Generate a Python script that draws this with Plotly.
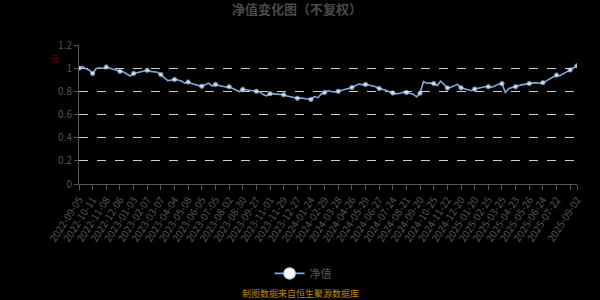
import plotly.graph_objects as go

# Net value series (equally spaced trading samples, 4 per tick interval)
nav = [
    1.000, 1.015, 0.995, 0.985, 0.953, 0.995, 1.003, 0.997, 1.010, 1.003,
    0.990, 0.982, 0.972, 0.968, 0.950, 0.932, 0.955, 0.962, 0.970, 0.978,
    0.982, 0.972, 0.970, 0.965, 0.945, 0.915, 0.893, 0.897, 0.903, 0.898,
    0.890, 0.870, 0.880, 0.868, 0.860, 0.852, 0.843, 0.858, 0.870, 0.845,
    0.860, 0.850, 0.843, 0.838, 0.840, 0.828, 0.812, 0.798, 0.818, 0.812,
    0.808, 0.800, 0.800, 0.795, 0.772, 0.760, 0.780, 0.778, 0.775, 0.772,
    0.770, 0.760, 0.752, 0.745, 0.740, 0.742, 0.737, 0.735, 0.730, 0.755,
    0.745, 0.775, 0.790, 0.805, 0.798, 0.795, 0.800, 0.810, 0.818, 0.825,
    0.833, 0.850, 0.862, 0.858, 0.860, 0.855, 0.848, 0.840, 0.825, 0.818,
    0.810, 0.795, 0.785, 0.778, 0.783, 0.790, 0.790, 0.785, 0.775, 0.752,
    0.785, 0.883, 0.870, 0.872, 0.867, 0.850, 0.888, 0.860, 0.828, 0.835,
    0.850, 0.860, 0.830, 0.822, 0.815, 0.805, 0.820, 0.828, 0.835, 0.840,
    0.840, 0.835, 0.848, 0.862, 0.867, 0.790, 0.825, 0.835, 0.840, 0.850,
    0.858, 0.862, 0.867, 0.872, 0.875, 0.870, 0.875, 0.890, 0.905, 0.920,
    0.940, 0.935, 0.950, 0.970, 0.985, 1.005, 1.020,
]

tick_labels = [
    "2022-09-05", "2022-10-11", "2022-11-08", "2022-12-06", "2023-01-03",
    "2023-02-07", "2023-03-07", "2023-04-04", "2023-05-08", "2023-06-05",
    "2023-07-05", "2023-08-02", "2023-08-30", "2023-09-27", "2023-11-01",
    "2023-11-29", "2023-12-27", "2024-01-24", "2024-02-29", "2024-03-28",
    "2024-04-26", "2024-05-29", "2024-06-27", "2024-07-24", "2024-08-21",
    "2024-09-20", "2024-10-25", "2024-11-22", "2024-12-20", "2025-01-20",
    "2025-02-25", "2025-03-25", "2025-04-23", "2025-05-26", "2025-06-24",
    "2025-07-22", "", "2025-09-02",
]

step = 4
n = len(nav)
xs = list(range(n))
tickvals = list(range(0, n, step)) + [n - 1]
marker_sizes = [4.5 if (i % step == 0 or i == n - 1) else 0 for i in xs]

fig = go.Figure()
fig.add_trace(go.Scatter(
    x=xs, y=nav, mode="lines+markers", showlegend=False,
    line=dict(color="#7fa9dc", width=1.6),
    marker=dict(size=marker_sizes, color="#ffffff",
                line=dict(color="#9cc0ea", width=0.8)),
))
fig.add_trace(go.Scatter(
    x=[None], y=[None], mode="lines+markers", name="净值",
    line=dict(color="#7fa9dc", width=1.6),
    marker=dict(size=11, color="#ffffff", line=dict(color="#cfe2ff", width=1.5)),
))

grey = "#555555"
fig.update_layout(
    width=600, height=300,
    paper_bgcolor="#000000", plot_bgcolor="#000000",
    margin=dict(l=79, r=23, t=45, b=114),
    font=dict(family="Noto Sans CJK SC, Noto Sans, sans-serif", color=grey, size=10),
    title=dict(text="<b>净值变化图（不复权）</b>", x=0.495, xanchor="center",
               y=0.967, yanchor="middle",
               font=dict(size=13, color="#4a4a4a")),
    showlegend=True,
    legend=dict(orientation="h", x=0.45, xanchor="center", y=-0.643, yanchor="middle",
                font=dict(size=11, color=grey), bgcolor="rgba(0,0,0,0)",
                itemwidth=30),
    xaxis=dict(
        range=[0, n - 1], tickmode="array", tickvals=tickvals, ticktext=tick_labels,
        tickangle=-57, showgrid=False, zeroline=False,
        showline=True, linecolor=grey, linewidth=1,
        ticks="outside", ticklen=5, tickcolor=grey,
        tickfont=dict(size=10, color=grey),
    ),
    yaxis=dict(
        range=[0, 1.2], tickmode="array", tickvals=[0, 0.2, 0.4, 0.6, 0.8, 1.0, 1.2],
        ticktext=["0", "0.2", "0.4", "0.6", "0.8", "1", "1.2"],
        showgrid=True, gridcolor="#cccccc", griddash="dash", gridwidth=1,
        zeroline=False, showline=True, linecolor=grey, linewidth=1,
        ticks="outside", ticklen=4, tickcolor=grey,
        tickfont=dict(size=10, color=grey),
    ),
    annotations=[
        dict(text="元", xref="paper", yref="paper", x=-0.048, y=0.9,
             xanchor="center", yanchor="middle",
             showarrow=False, font=dict(size=8, color="#8b0000")),
        dict(text="制图数据来自恒生聚源数据库", xref="paper", yref="paper",
             x=0.445, y=-0.786, xanchor="center", yanchor="middle",
             showarrow=False, font=dict(size=9, color="#b8860b")),
    ],
)

fig.write_html("out.html")
